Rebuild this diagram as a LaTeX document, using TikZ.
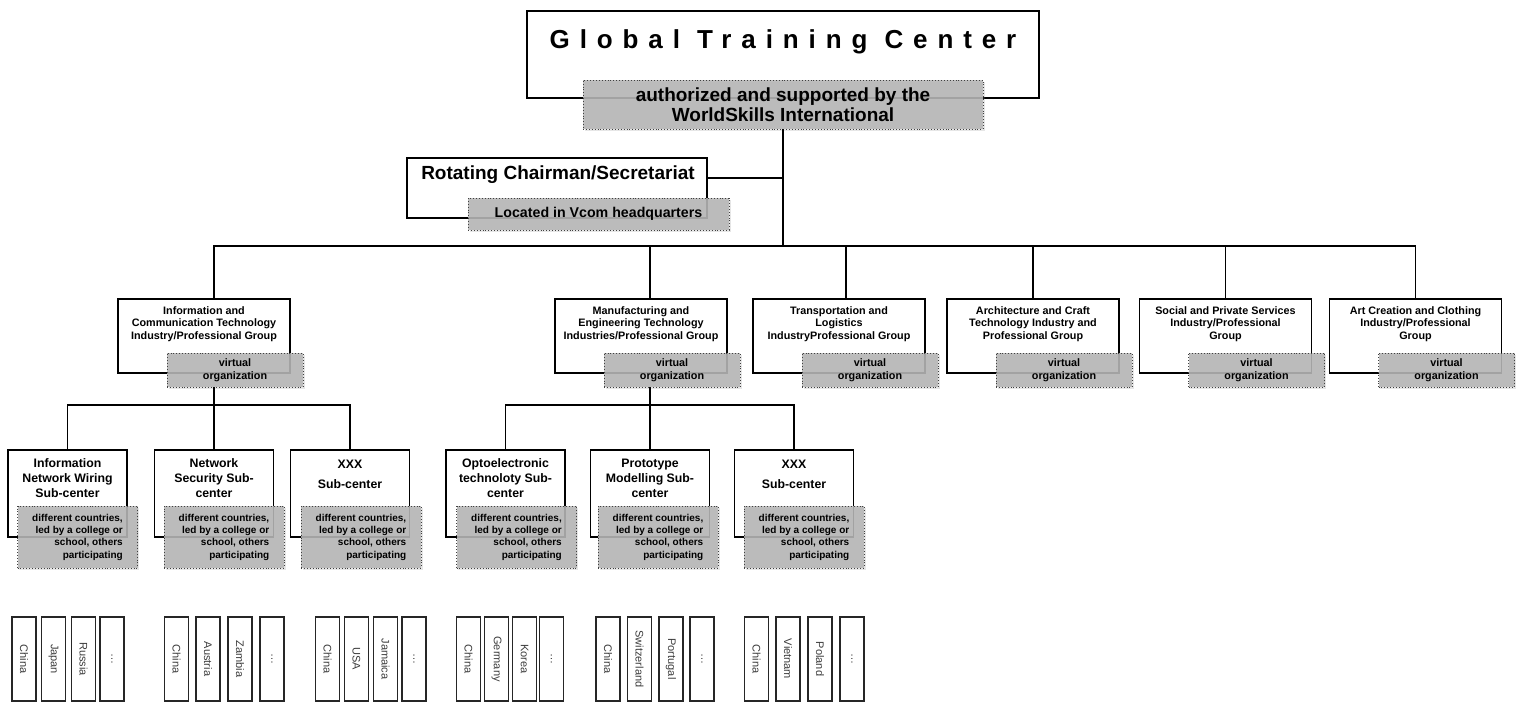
\documentclass[tikz,border=0pt]{standalone}
\usepackage{fontspec}
\setmainfont{Liberation Sans}
\usetikzlibrary{arrows,shadows}
\definecolor{vgray}{RGB}{182,182,182}
\definecolor{dgray}{RGB}{60,60,60}

\begin{document}
\begin{tikzpicture}[x=1pt,y=-1pt,-,line width=1.9pt,
  box node/.style={draw,fill=white,line width=1.9pt,inner sep=0pt,outer sep=0pt},
  group node/.style={box node,minimum width=172pt,minimum height=74pt},
  sub node/.style={box node,minimum width=119pt,minimum height=87pt},
  virtual node/.style={draw=black!75,dotted,line width=0.9pt,fill=vgray,fill opacity=0.88,text opacity=1,
    inner sep=0pt,outer sep=0pt,align=center,drop shadow={opacity=0.2,shadow xshift=1.5pt,shadow yshift=-1.5pt}},
  group virtual/.style={virtual node,minimum width=136pt,minimum height=34pt,font=\bfseries\fontsize{10.8}{13}\selectfont},
  sub virtual/.style={virtual node,minimum width=120pt,minimum height=62pt,align=right,font=\bfseries\fontsize{10}{12.3}\selectfont},
  group text/.style={align=center,inner sep=0pt,font=\bfseries\fontsize{10.8}{12.5}\selectfont},
  sub text/.style={align=center,inner sep=0pt,font=\bfseries\fontsize{12.3}{15}\selectfont},
  country node/.style={draw=black!85,line width=1.3pt,rotate=-90,minimum width=84pt,minimum height=24pt,
    inner sep=0pt,text=dgray,font=\fontsize{11}{13}\selectfont}]
  \useasboundingbox (0,0) rectangle (1519,702);

  % top level
  \node[box node,minimum width=512pt,minimum height=87pt] (gtc) at (783,54.5) {};
  \node[inner sep=0pt,font=\bfseries\fontsize{26}{30}\selectfont\addfontfeatures{LetterSpace=38}] (gtc-t) at (783,42) {Global Training Center};
  \node[virtual node,minimum width=400pt,minimum height=49pt,font=\bfseries\fontsize{19}{20}\selectfont] (gtc-v) at (783,104.5) {authorized and supported by the\\WorldSkills International};

  \node[box node,minimum width=300pt,minimum height=60pt] (rot) at (557,188) {};
  \node[inner sep=0pt,font=\bfseries\fontsize{19}{22}\selectfont] (rot-t) at (558,175) {Rotating Chairman/Secretariat};
  \node[virtual node,minimum width=261pt,minimum height=32pt,font=\bfseries\fontsize{14.2}{17}\selectfont] (rot-v) at (598.5,214) {Located in Vcom headquarters};

  % industry groups
  \node[group node] (ict) at (204,336) {};
  \node[group text] (ict-t) at (204,324) {Information and\\Communication Technology\\Industry/Professional Group};
  \node[group virtual] (ict-v) at (235,370) {virtual\\organization};

  \node[group node] (mfg) at (641,336) {};
  \node[group text] (mfg-t) at (641,324) {Manufacturing and\\Engineering Technology\\Industries/Professional Group};
  \node[group virtual] (mfg-v) at (672,370) {virtual\\organization};

  \node[group node] (trn) at (839,336) {};
  \node[group text] (trn-t) at (839,324) {Transportation and\\Logistics\\IndustryProfessional Group};
  \node[group virtual] (trn-v) at (870,370) {virtual\\organization};

  \node[group node] (arc) at (1033,336) {};
  \node[group text] (arc-t) at (1033,324) {Architecture and Craft\\Technology Industry and\\Professional Group};
  \node[group virtual] (arc-v) at (1064,370) {virtual\\organization};

  \node[group node] (soc) at (1225.5,336) {};
  \node[group text] (soc-t) at (1225.5,324) {Social and Private Services\\Industry/Professional\\Group};
  \node[group virtual] (soc-v) at (1256.5,370) {virtual\\organization};

  \node[group node] (art) at (1415.5,336) {};
  \node[group text] (art-t) at (1415.5,324) {Art Creation and Clothing\\Industry/Professional\\Group};
  \node[group virtual] (art-v) at (1446.5,370) {virtual\\organization};

  % sub-centers
  \node[sub node] (inw) at (67.5,493.5) {};
  \node[sub text] (inw-t) at (67.5,478) {Information\\Network Wiring\\Sub-center};
  \node[sub virtual] (inw-v) at (77.5,537) {different countries,\\led by a college or\\school, others\\participating};

  \node[sub node] (nss) at (214,493.5) {};
  \node[sub text] (nss-t) at (214,478) {Network\\Security Sub-\\center};
  \node[sub virtual] (nss-v) at (224,537) {different countries,\\led by a college or\\school, others\\participating};

  \node[sub node] (xa) at (350,493.5) {};
  \node[sub text] (xa-t) at (350,474) {XXX\\[5pt]Sub-center};
  \node[sub virtual] (xa-v) at (361,537) {different countries,\\led by a college or\\school, others\\participating};

  \node[sub node] (opt) at (505.5,493.5) {};
  \node[sub text] (opt-t) at (505.5,478) {Optoelectronic\\technoloty Sub-\\center};
  \node[sub virtual] (opt-v) at (516.5,537) {different countries,\\led by a college or\\school, others\\participating};

  \node[sub node] (pms) at (650,493.5) {};
  \node[sub text] (pms-t) at (650,478) {Prototype\\Modelling Sub-\\center};
  \node[sub virtual] (pms-v) at (658,537) {different countries,\\led by a college or\\school, others\\participating};

  \node[sub node] (xb) at (794,493.5) {};
  \node[sub text] (xb-t) at (794,474) {XXX\\[5pt]Sub-center};
  \node[sub virtual] (xb-v) at (804,537) {different countries,\\led by a college or\\school, others\\participating};

  % countries
  \foreach \x/\lab [count=\k] in {24/China,53.5/Japan,83.5/Russia,112/\dots,
      176.5/China,208/Austria,240/Zambia,272/\dots,
      327.5/China,356.5/USA,385.5/Jamaica,414/\dots,
      468.5/China,496.5/Germany,524.5/Korea,551.5/\dots,
      608/China,639.5/Switzerland,671/Portugal,702/\dots,
      756.5/China,788/Vietnam,820/Poland,852/\dots}
    \node[country node] (c\k) at (\x,659) {\lab};

  % connectors
  \coordinate (bus) at (783,246);
  \coordinate (rot-link) at (783,178);
  \coordinate (ict-bus) at (214,405);
  \coordinate (mfg-bus) at (650,405);

  \draw (gtc-v.south) -- (bus);
  \draw ([yshift=10pt]rot.east) -- (rot-link);
  \draw (bus) -| ([xshift=10pt]ict.north);
  \draw (bus) -| ([xshift=9pt]mfg.north);
  \draw (bus) -| ([xshift=7pt]trn.north);
  \draw (bus) -| (arc.north);
  \draw (bus) -| (soc.north);
  \draw (bus) -| (art.north);

  \draw ([xshift=-21pt]ict-v.south) -- (ict-bus);
  \draw (ict-bus) -| (inw.north);
  \draw (ict-bus) -- (nss.north);
  \draw (ict-bus) -| (xa.north);

  \draw ([xshift=-22pt]mfg-v.south) -- (mfg-bus);
  \draw (mfg-bus) -| (opt.north);
  \draw (mfg-bus) -- (pms.north);
  \draw (mfg-bus) -| (xb.north);
\end{tikzpicture}
\end{document}
